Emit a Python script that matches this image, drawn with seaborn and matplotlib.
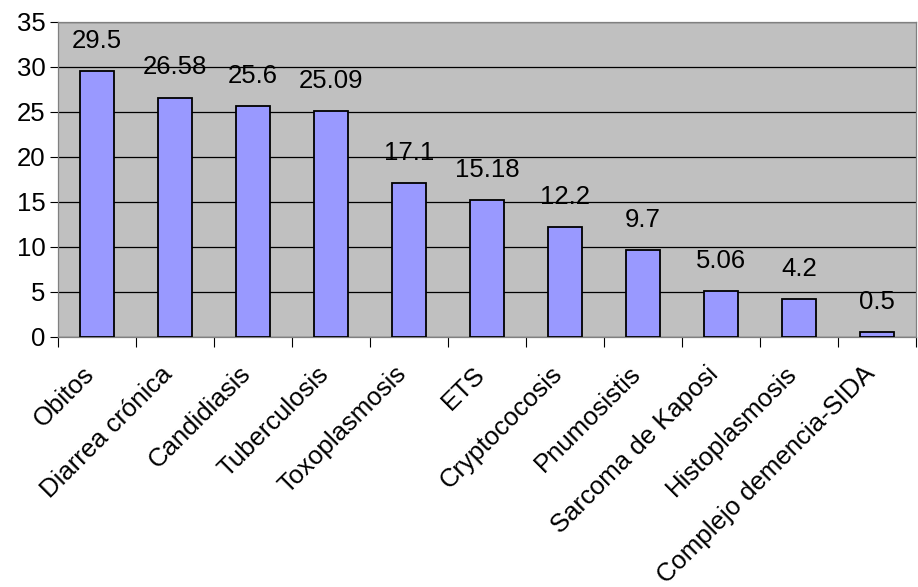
import numpy as np
import pandas as pd
import matplotlib
matplotlib.use("Agg")
import matplotlib.pyplot as plt
import matplotlib.transforms as mtransforms
import seaborn as sns

categories = ["Obitos", "Diarrea crónica", "Candidiasis", "Tuberculosis",
              "Toxoplasmosis", "ETS", "Cryptococosis", "Pnumosistis",
              "Sarcoma de Kaposi", "Histoplasmosis", "Complejo demencia-SIDA"]
values = [29.5, 26.58, 25.6, 25.09, 17.1, 15.18, 12.2, 9.7, 5.06, 4.2, 0.5]
value_labels = ["29.5", "26.58", "25.6", "25.09", "17.1", "15.18", "12.2",
                "9.7", "5.06", "4.2", "0.5"]

sns.set_style("white")
plt.rcParams["font.family"] = ["Liberation Sans", "DejaVu Sans"]
plt.rcParams["text.color"] = "black"
plt.rcParams["xtick.color"] = "black"
plt.rcParams["ytick.color"] = "black"

df = pd.DataFrame({"cat": categories, "val": values})

fig = plt.figure(figsize=(9.18, 5.87), dpi=100)
ax = fig.add_axes([0.063, 0.426, 0.935, 0.537])
ax.set_facecolor("#C0C0C0")

sns.barplot(data=df, x="cat", y="val", ax=ax, color="#9999FF",
            saturation=1, width=0.44, edgecolor="black", linewidth=1.3, zorder=3)

ax.set_ylim(0, 35)
ax.set_yticks(np.arange(0, 36, 5))
ax.set_xlim(-0.5, len(categories) - 0.5)
ax.yaxis.grid(True, color="black", linewidth=0.9, zorder=0)
ax.set_axisbelow(True)
ax.set_xlabel("")
ax.set_ylabel("")

for s in ["top", "right", "left", "bottom"]:
    ax.spines[s].set_color("#808080")
    ax.spines[s].set_linewidth(0.9)

fs = 18.5
ax.set_xticks(range(len(categories)))
ax.set_xticklabels(categories, rotation=45, ha="right", va="center",
                   rotation_mode="anchor", fontsize=fs, color="black")
ax.set_xticks(np.arange(-0.5, len(categories), 1), minor=True)
ax.tick_params(axis="x", which="major", length=0, pad=24)
ax.tick_params(axis="x", which="minor", length=7, direction="out",
               color="black", width=0.8, bottom=True)
ax.tick_params(axis="y", length=6, direction="out", color="black",
               width=0.8, left=True, labelsize=fs, labelcolor="black", pad=3)

# nudge the rotated category labels a little to the left, like the original
shift = mtransforms.ScaledTranslation(-6 / 100, 0, fig.dpi_scale_trans)
for lbl in ax.get_xticklabels():
    lbl.set_transform(lbl.get_transform() + shift)

for i, (v, lab) in enumerate(zip(values, value_labels)):
    ax.annotate(lab, (i, v), xytext=(0, 13), textcoords="offset points",
                ha="center", va="bottom", fontsize=fs, color="black")

fig.savefig("out.png", dpi=100)
